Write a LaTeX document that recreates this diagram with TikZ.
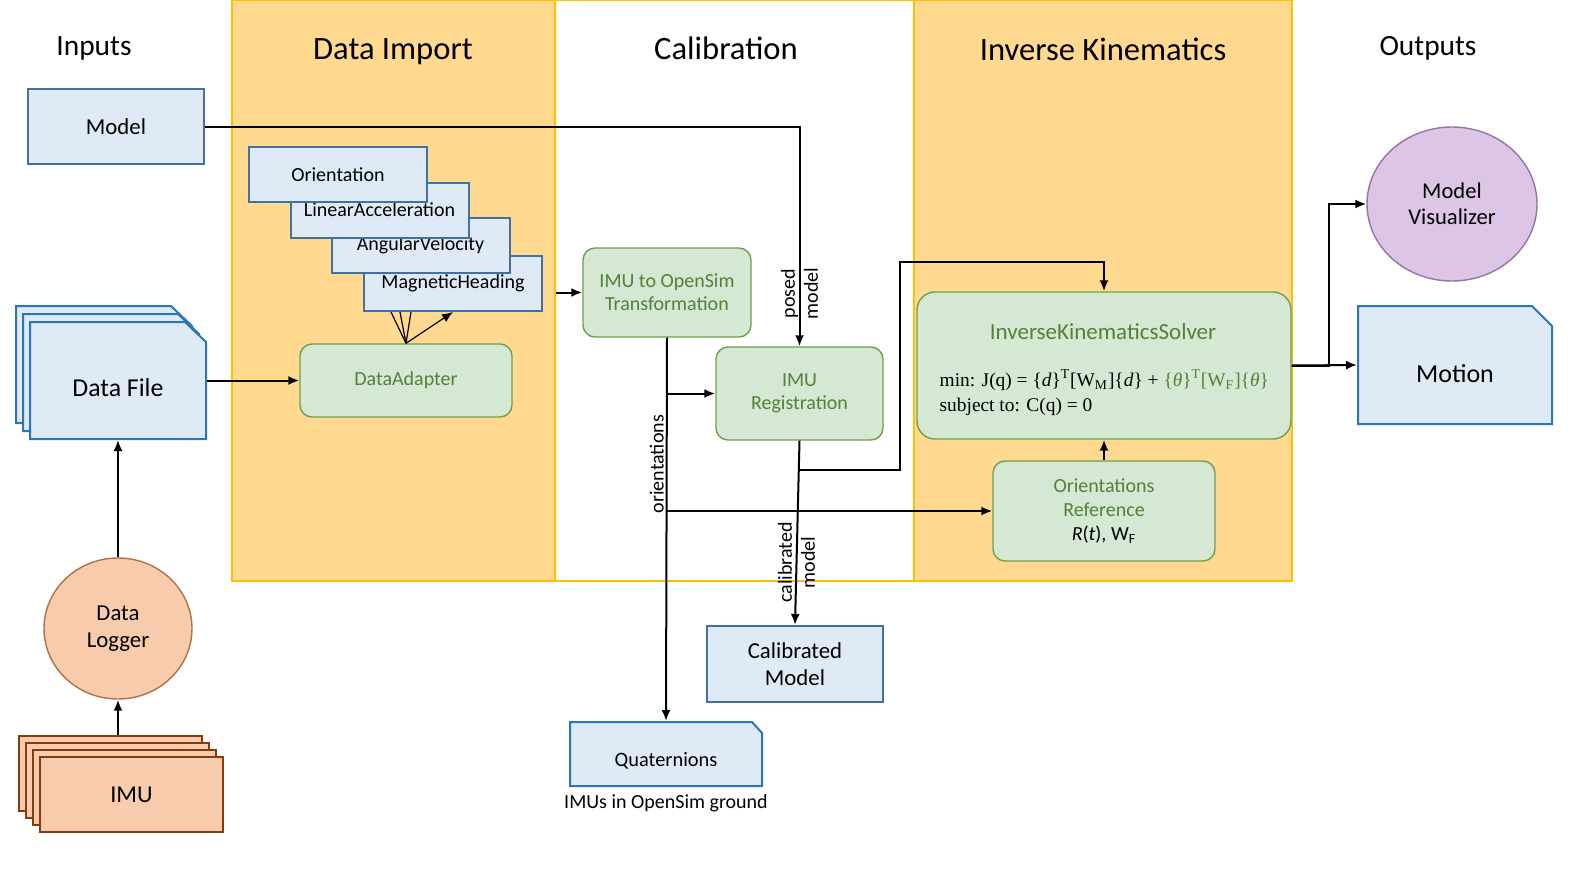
\documentclass[tikz,border=0pt]{standalone}
\usepackage{fontspec}
\setmainfont{Carlito}
\newfontfamily\timesfont{Liberation Serif}
\usetikzlibrary{positioning,arrows.meta,shapes.geometric}

\definecolor{bandorange}{HTML}{FFD98F}
\definecolor{bandline}{HTML}{FFC000}
\definecolor{bluefill}{HTML}{DEEBF7}
\definecolor{blueline}{HTML}{41719C}
\definecolor{fileline}{HTML}{2E75B6}
\definecolor{greenfill}{HTML}{D5E8D4}
\definecolor{greenline}{HTML}{6D9F4F}
\definecolor{greentext}{HTML}{538135}
\definecolor{orangefill}{HTML}{F8CBAD}
\definecolor{imuline}{HTML}{843C0C}
\definecolor{loggerline}{HTML}{B0704A}
\definecolor{purplefill}{HTML}{DCC5E5}
\definecolor{purpleline}{HTML}{9673A6}

\begin{document}
\begin{tikzpicture}[x=0.5pt, y=-0.5pt, line width=1pt, >={Latex[length=5.5pt,width=4.5pt]},
    bandbox/.style={draw=bandline, line width=0.6pt, inner sep=0pt, minimum height=290.5pt},
    heading/.style={font=\fontsize{16.3}{19}\selectfont},
    sidehead/.style={font=\fontsize{14.7}{17}\selectfont},
    bluebox/.style={draw=blueline, fill=bluefill, line width=1pt, rectangle, align=center, font=\fontsize{11.4}{13.5}\selectfont},
    filesheet/.style={draw=fileline, fill=bluefill, line width=1pt},
    filebox/.style={rectangle, inner sep=0pt, align=center},
    signalbox/.style={bluebox, minimum width=89pt, minimum height=27.5pt, font=\fontsize{10}{12}\selectfont},
    greenbox/.style={draw=greenline, fill=greenfill, line width=0.7pt, rounded corners=6pt, align=center, text=greentext, font=\fontsize{10}{11.5}\selectfont},
    imubox/.style={draw=imuline, fill=orangefill, line width=1pt, minimum width=91.5pt, minimum height=37.5pt, font=\fontsize{12.1}{14}\selectfont},
    edgelabel/.style={font=\fontsize{10}{11.5}\selectfont, align=center, inner sep=1pt}
]
    \useasboundingbox (0,0) rectangle (1591,895);

    % Bands
    \node (importband) [bandbox, fill=bandorange, minimum width=161.5pt] at (393.5,290.5) {};
    \node (calibband) [bandbox, fill=white, minimum width=179.5pt] at (734.5,290.5) {};
    \node (ikband) [bandbox, fill=bandorange, minimum width=189pt] at (1103,290.5) {};

    \node (inputs) [sidehead] at (94,48.5) {Inputs};
    \node (importhead) [heading] at (393,52) {Data Import};
    \node (calibhead) [heading] at (726,48) {Calibration};
    \node (ikhead) [heading] at (1103,49) {Inverse Kinematics};
    \node (outputs) [sidehead] at (1428,48.5) {Outputs};

    % Inputs
    \node (model) [bluebox, minimum width=88pt, minimum height=37.5pt] at (116,126.5) {Model};
    \draw[filesheet] (16,306) -- (171,306) -- (192,326) -- (192,423) -- (16,423) -- cycle;
    \draw[filesheet] (23,314) -- (178,314) -- (199,334) -- (199,431) -- (23,431) -- cycle;
    \draw[filesheet] (30,322) -- (185,322) -- (206,342) -- (206,439) -- (30,439) -- cycle;
    \node (datafile) [filebox, minimum width=88pt, minimum height=58.5pt, text height=15.5pt, text depth=0pt, font=\fontsize{12.9}{15}\selectfont] at (118,380.5) {Data File};
    \node (logger) [ellipse, draw=loggerline, fill=orangefill, line width=0.7pt, minimum width=74pt, minimum height=70.5pt, align=center, font=\fontsize{11.4}{13.5}\selectfont] at (118,628.5) {Data\\Logger};
    \node (imu1) [imubox] at (110.5,773.5) {};
    \node (imu2) [imubox] at (117.5,780.5) {};
    \node (imu3) [imubox] at (124.5,787.5) {};
    \node (imu) [imubox] at (131.5,794.5) {IMU};

    % Data import
    \node (maghead) [signalbox] at (453,283.5) {MagneticHeading};
    \node (angvel) [signalbox] at (420.5,245) {AngularVelocity};
    \node (linacc) [signalbox] at (379.5,210) {LinearAcceleration};
    \node (orientation) [signalbox] at (338,174.5) {Orientation};
    \node (adapter) [greenbox, minimum width=106pt, minimum height=36.5pt] at (406,380.5) {DataAdapter};

    % Calibration
    \node (tf) [greenbox, minimum width=84pt, minimum height=44.5pt] at (667,292.5) {IMU to OpenSim\\Transformation};
    \node (reg) [greenbox, minimum width=83.5pt, minimum height=46.5pt] at (799.5,393.5) {IMU\\Registration};
    \node (calib) [bluebox, minimum width=88pt, minimum height=38pt] at (795,664) {Calibrated\\Model};
    \draw[filesheet] (570,722) -- (752,722) -- (762,733) -- (762,786) -- (570,786) -- cycle;
    \node (quat) [filebox, minimum width=96pt, minimum height=32pt, text height=14pt, text depth=1.5pt, font=\fontsize{10.2}{12}\selectfont] at (666,754) {Quaternions};
    \node (quatnote) [below=0pt of quat, font=\fontsize{10}{12}\selectfont] {IMUs in OpenSim ground};

    % Inverse kinematics
    \node (ik) [greenbox, rounded corners=9pt, minimum width=187pt, minimum height=73.5pt] at (1104,365.5) {};
    \node (iktitle) [text=greentext, font=\fontsize{11.5}{13}\selectfont] at (1103,332) {InverseKinematicsSolver};
    \node (ikformula) [anchor=west, align=left, font=\timesfont\fontsize{9.7}{12.5}\selectfont] at (932,392.5)
        {min: J(q) = \{\textit{d}\}\textsuperscript{T}[W\textsubscript{M}]\{\textit{d}\} + {\color{greentext}\{\textit{θ}\}\textsuperscript{T}[W\textsubscript{F}]\{\textit{θ}\}}\\subject to: C(q) = 0};
    \node (oref) [greenbox, minimum width=111pt, minimum height=50pt, font=\fontsize{10}{12}\selectfont] at (1104,511) {Orientations\\Reference\\{\color{black}\textit{R}(\textit{t}), W\textsubscript{F}}};

    % Outputs
    \node (viz) [ellipse, draw=purpleline, fill=purplefill, line width=0.7pt, minimum width=85pt, minimum height=77pt, align=center, font=\fontsize{11.3}{13}\selectfont] at (1452,204) {Model\\Visualizer};
    \draw[filesheet] (1358,306) -- (1532,306) -- (1552,326) -- (1552,424) -- (1358,424) -- cycle;
    \node (motion) [filebox, minimum width=97pt, minimum height=59pt, text height=17.5pt, text depth=0pt, font=\fontsize{13}{15}\selectfont] at (1455,365) {Motion};

    % Edges
    \draw[->] (model.east) -| (reg.north) node[pos=0.88, rotate=90, edgelabel] {posed\\model};
    \draw[->] (datafile.east) -- (adapter.west);
    \draw[->] (logger.north) -- (datafile.south);
    \draw[->] (logger.south |- imu1.north) -- (logger.south);
    \draw[line width=0.6pt] (adapter.north) -- ([xshift=-31pt]maghead.south);
    \draw[line width=0.6pt] (adapter.north) -- ([xshift=-26.5pt]maghead.south);
    \draw[line width=0.6pt] (adapter.north) -- ([xshift=-21pt]maghead.south);
    \draw[->, line width=0.6pt] (adapter.north) -- (maghead.south);
    \draw[->] (importband.east |- tf.west) -- (tf.west);
    \draw[->] (tf.south) -- (quat.north) node[pos=0.33, rotate=90, anchor=south, edgelabel] {orientations};
    \draw[->] (tf.south |- reg.west) -- (reg.west);
    \draw[->] (tf.south |- oref.west) -- (oref.west);
    \draw[->] (reg.south) -- (calib.north) node[pos=0.66, rotate=90, edgelabel] {calibrated\\model};
    \draw[->] ([yshift=-14.5pt]reg.south) -| (900,262) -| (ik.north);
    \draw[->] (oref.north) -- (ik.south);
    \draw[->] (ik.east) -- (motion.west);
    \draw[->] (ik.east) -- ([xshift=18.5pt]ik.east) |- (viz.west);
\end{tikzpicture}
\end{document}
